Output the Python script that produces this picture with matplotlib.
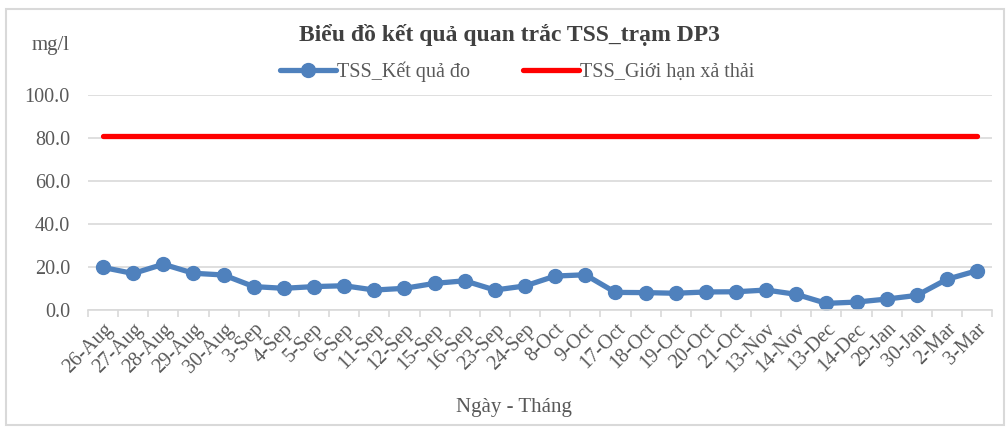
import numpy as np
import matplotlib.pyplot as plt
from matplotlib.patches import Rectangle

plt.rcParams['font.family'] = ['Liberation Serif', 'DejaVu Serif']

# data
dates = ['26-Aug', '27-Aug', '28-Aug', '29-Aug', '30-Aug', '3-Sep', '4-Sep',
         '5-Sep', '6-Sep', '11-Sep', '12-Sep', '15-Sep', '16-Sep', '23-Sep',
         '24-Sep', '8-Oct', '9-Oct', '17-Oct', '18-Oct', '19-Oct', '20-Oct',
         '21-Oct', '13-Nov', '14-Nov', '13-Dec', '14-Dec', '29-Jan', '30-Jan',
         '2-Mar', '3-Mar']
tss_measured = [19.8, 17.0, 21.3, 17.1, 16.3, 10.9, 10.1, 10.9, 11.3, 9.3,
                10.1, 12.4, 13.6, 9.3, 11.2, 15.8, 16.4, 8.2, 8.1, 7.8,
                8.4, 8.5, 9.3, 7.3, 3.1, 3.7, 5.1, 6.8, 14.3, 18.3]
tss_limit = [81.0] * len(dates)

BLUE = '#4f81bd'
RED = '#ff0000'
GRAY_TXT = '#595959'
GRID = '#d9d9d9'

fig = plt.figure(figsize=(10.08, 4.30), dpi=100)
ax = fig.add_axes([0.0873, 0.279, 0.897, 0.500])

x = np.arange(len(dates))
ax.plot(x, tss_measured, color=BLUE, lw=3.8, marker='o', ms=10,
        label='TSS_Kết quả đo', solid_capstyle='round')
ax.plot(x, tss_limit, color=RED, lw=3.8, label='TSS_Giới hạn xả thải',
        solid_capstyle='round')

ax.set_xlim(-0.5, len(dates) - 0.5)
ax.set_ylim(0, 100)
ax.set_yticks(np.arange(0, 101, 20))
ax.set_yticklabels([f'{v:.1f}' for v in np.arange(0, 101, 20)])
ax.yaxis.grid(True, color=GRID, lw=1.2)
ax.set_axisbelow(True)

ax.set_xticks(x)
ax.set_xticklabels(dates, rotation=45, ha='right', rotation_mode='anchor')
ax.set_xticks(np.arange(-0.5, len(dates), 1), minor=True)
ax.tick_params(axis='x', which='major', length=0, pad=7,
               labelsize=14.5, labelcolor=GRAY_TXT)
ax.tick_params(axis='x', which='minor', length=5, color=GRID, width=1.2)
ax.tick_params(axis='y', length=0, pad=13, labelsize=14.5, labelcolor=GRAY_TXT)

for side in ['left', 'right', 'top']:
    ax.spines[side].set_visible(False)
ax.spines['bottom'].set_color(GRID)
ax.spines['bottom'].set_linewidth(1.2)

fig.text(0.505, 0.919, 'Biểu đồ kết quả quan trắc TSS_trạm DP3',
         ha='center', va='center', fontsize=17, fontweight='bold',
         color='#404040')
fig.text(0.05, 0.895, 'mg/l', ha='center', va='center', fontsize=15,
         color=GRAY_TXT)
fig.text(0.51, 0.053, 'Ngày - Tháng', ha='center', va='center',
         fontsize=15, color=GRAY_TXT)

leg = fig.legend(loc='center', bbox_to_anchor=(0.513, 0.833), ncol=2,
                 frameon=False, fontsize=14.5, handlelength=2.8,
                 handletextpad=0.05, columnspacing=2.6)
for t in leg.get_texts():
    t.set_color(GRAY_TXT)

fig.patches.append(Rectangle((0.006, 0.012), 0.99, 0.968,
                             transform=fig.transFigure, fill=False,
                             edgecolor=GRID, lw=1.5))

fig.savefig('out.png', dpi=100)
